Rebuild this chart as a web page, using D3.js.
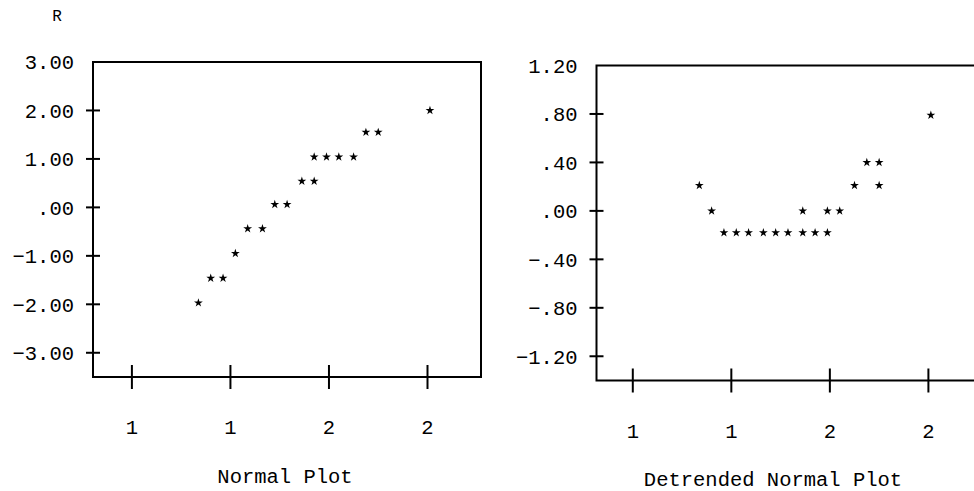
<!DOCTYPE html>
<html>
<head>
<meta charset="utf-8">
<script src="https://cdn.jsdelivr.net/npm/d3@7"></script>
<style>
  html, body { margin: 0; padding: 0; background: #fff; }
  svg text { font-family: "Liberation Mono", "DejaVu Sans Mono", monospace; fill: #000; }
</style>
</head>
<body>
<svg id="chart" width="974" height="491"></svg>
<script>
// Observed values (x) and their plotted positions for each panel
const normalX = [1.27, 1.32, 1.37, 1.42, 1.47, 1.53, 1.58, 1.63, 1.69, 1.74, 1.74, 1.79, 1.84, 1.90, 1.95, 2.00, 2.21];
const normalY = [-1.97, -1.46, -1.46, -0.95, -0.44, -0.44, 0.06, 0.06, 0.54, 0.54, 1.04, 1.04, 1.04, 1.04, 1.55, 1.55, 2.00];

const detrendX = [1.27, 1.32, 1.37, 1.42, 1.47, 1.53, 1.58, 1.63, 1.69, 1.74, 1.79, 1.69, 1.79, 1.84, 1.90, 1.95, 2.00, 2.00, 2.21];
const detrendY = [0.21, 0.00, -0.18, -0.18, -0.18, -0.18, -0.18, -0.18, -0.18, -0.18, -0.18, 0.00, 0.00, 0.00, 0.21, 0.40, 0.40, 0.21, 0.79];

// Axis ticks
const xTickValues = [1.0, 1.4, 1.8, 2.2];
const xTickLabels = ["1", "1", "2", "2"];
const normalYTicks = [3, 2, 1, 0, -1, -2, -3];
const detrendYTicks = [1.2, 0.8, 0.4, 0, -0.4, -0.8, -1.2];

const svg = d3.select("#chart");
const FONT = 20.5;

// "0.40" -> ".40", "-0.40" -> "-.40"
const fmt = v => d3.format(".2f")(v).replace(/^(−?)0\./, "$1.");

function label(g, str, x, y, anchor, size) {
  return g.append("text")
    .attr("x", x).attr("y", y).attr("dy", "0.36em")
    .attr("text-anchor", anchor).attr("font-size", size)
    .text(str);
}

function panel(opt) {
  const g = svg.append("g");
  const x = d3.scaleLinear().domain([xTickValues[0], xTickValues[3]]).range([opt.tick0, opt.tick3]);
  const y = d3.scaleLinear().domain(opt.yDomain).range([opt.bottom, opt.top]);

  // frame
  g.append("path")
    .attr("d", `M${opt.left},${opt.bottom} L${opt.left},${opt.top} L${opt.right},${opt.top} L${opt.right},${opt.bottom} Z`)
    .attr("fill", "none").attr("stroke", "#000").attr("stroke-width", 2);

  // y ticks (the top value sits on the frame corner)
  g.selectAll(".yt").data(opt.yTicks.slice(1)).join("line")
    .attr("x1", opt.left - 7).attr("x2", opt.left + 7)
    .attr("y1", d => y(d)).attr("y2", d => y(d))
    .attr("stroke", "#000").attr("stroke-width", 2);
  opt.yTicks.forEach(d => label(g, fmt(d), opt.left - 19, y(d), "end", FONT));

  // x ticks
  g.selectAll(".xt").data(xTickValues).join("line")
    .attr("x1", d => x(d)).attr("x2", d => x(d))
    .attr("y1", opt.bottom - 12).attr("y2", opt.bottom + 12)
    .attr("stroke", "#000").attr("stroke-width", 2);
  xTickValues.forEach((d, i) => label(g, xTickLabels[i], x(d), opt.bottom + 50, "middle", FONT));

  // points
  const star = d3.symbol(d3.symbolStar, 24);
  g.selectAll(".pt").data(opt.xs.map((v, i) => [v, opt.ys[i]])).join("path")
    .attr("d", star)
    .attr("transform", d => `translate(${x(d[0])},${y(d[1])})`)
    .attr("fill", "#000");

  // title
  label(g, opt.title, opt.titleX, opt.titleY, "middle", FONT);
}

panel({
  left: 93, right: 481, top: 62, bottom: 377,
  tick0: 131.9, tick3: 427.5,
  yDomain: [-3.5, 3], yTicks: normalYTicks,
  xs: normalX, ys: normalY,
  title: "Normal Plot", titleX: 285, titleY: 476
});

panel({
  left: 596.5, right: 980, top: 65.5, bottom: 380.5,
  tick0: 632.8, tick3: 928.4,
  yDomain: [-1.4, 1.2], yTicks: detrendYTicks,
  xs: detrendX, ys: detrendY,
  title: "Detrended Normal Plot", titleX: 773, titleY: 479
});

label(svg, "R", 57, 15, "middle", 16);
</script>
</body>
</html>
